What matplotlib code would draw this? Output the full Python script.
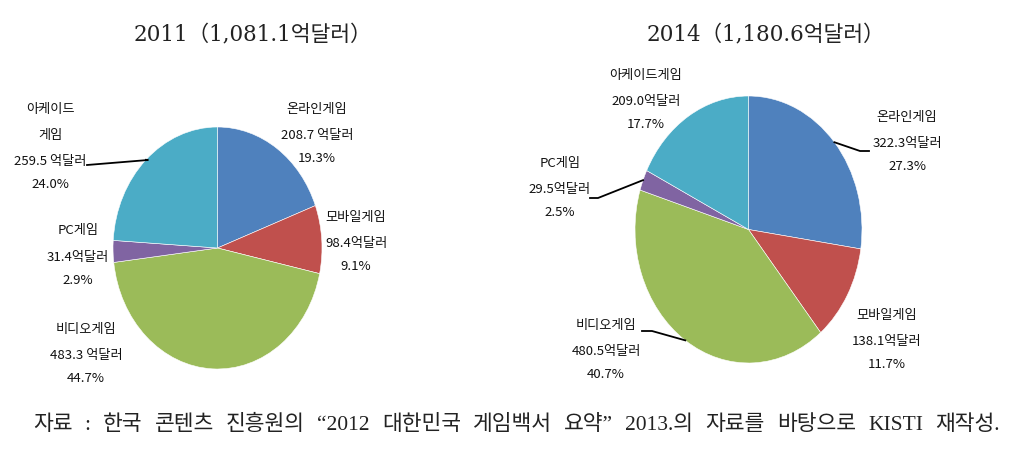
import matplotlib
matplotlib.use("Agg")
import matplotlib.pyplot as plt
import numpy as np

# ---------------- data ----------------
categories = ["온라인게임", "모바일게임", "비디오게임", "PC게임", "아케이드게임"]
colors = ["#4F81BD", "#C0504D", "#9BBB59", "#8064A2", "#4BACC6"]

values_2011 = [208.7, 98.4, 483.3, 31.4, 259.5]
pct_2011 = [19.3, 9.1, 44.7, 2.9, 24.0]
amount_2011 = ["208.7 억달러", "98.4억달러", "483.3 억달러", "31.4억달러", "259.5 억달러"]
names_2011 = ["온라인게임", "모바일게임", "비디오게임", "PC게임", "아케이드\n게임"]

values_2014 = [322.3, 138.1, 480.5, 29.5, 209.0]
pct_2014 = [27.3, 11.7, 40.7, 2.5, 17.7]
amount_2014 = ["322.3억달러", "138.1억달러", "480.5억달러", "29.5억달러", "209.0억달러"]
names_2014 = categories

title_2011 = "2011（1,081.1억달러）"
title_2014 = "2014（1,180.6억달러）"
source_words = ["자료", ":", "한국", "콘텐츠", "진흥원의", "“2012", "대한민국", "게임백서",
                "요약”", "2013.의", "자료를", "바탕으로", "KISTI", "재작성."]

# ---------------- layout (pixels) ----------------
W, H = 1018, 454
# pie bounding boxes: left, top, right, bottom
box_2011 = (113, 127, 322, 369)
box_2014 = (635, 96, 862, 363)
# label centre x, top-line y
lab_2011 = [(317, 109), (356, 218), (86, 330), (78, 231), (50, 109)]
lab_2014 = [(907, 117), (887, 315), (606, 325), (560, 164), (646, 76)]
# leader lines: wedge index -> label-side end points (pixels)
lead_2011 = {4: [(87, 165), (148, 160)]}
lead_2014 = {0: [(869, 151), (860, 151)], 2: [(642, 331), (652, 331)], 3: [(590, 198), (598, 198)]}

KFONT = ["Noto Sans CJK KR", "DejaVu Sans"]
SFONT = ["DejaVu Serif", "Noto Sans CJK KR"]
NFONT = ["Liberation Serif", "Noto Sans CJK KR"]

fig = plt.figure(figsize=(W / 100, H / 100), dpi=100)


def draw_pie(box, values, names, amounts, pcts, labs, leads, title, title_x):
    l, t, r, b = box
    ax = fig.add_axes([l / W, 1 - b / H, (r - l) / W, (b - t) / H])
    wedges, _ = ax.pie(values, colors=colors, startangle=90, counterclock=False,
                       radius=1, wedgeprops=dict(edgecolor="white", linewidth=0.4))
    ax.set_aspect("auto")
    ax.set_xlim(-1, 1)
    ax.set_ylim(-1, 1)
    ax.axis("off")

    inv = ax.transData.inverted()

    def to_data(px, py):
        return inv.transform((px, H - py))

    # labels, one text per line
    for i, (x, y) in enumerate(labs):
        lines = names[i].split("\n") + [amounts[i], f"{pcts[i]:.1f}%"]
        yy = y
        for j, s in enumerate(lines):
            fig.text(x / W, 1 - yy / H, s, ha="center", va="center",
                     fontsize=9.5, family=KFONT, color="#111111")
            yy += 26 if j < len(lines) - 2 else 23

    # leader lines from wedge middle to the label
    for i, pts in leads.items():
        w = wedges[i]
        mid = np.deg2rad((w.theta1 + w.theta2) / 2)
        p = [to_data(*pt) for pt in pts]
        xs = [p[0][0], p[1][0], np.cos(mid)]
        ys = [p[0][1], p[1][1], np.sin(mid)]
        ax.plot(xs, ys, color="black", lw=1.3, clip_on=False)

    fig.text(title_x / W, 1 - 35 / H, title, ha="center", va="center",
             fontsize=15.5, family=SFONT, color="#222222")


draw_pie(box_2011, values_2011, names_2011, amount_2011, pct_2011, lab_2011, lead_2011,
         title_2011, 253)
draw_pie(box_2014, values_2014, names_2014, amount_2014, pct_2014, lab_2014, lead_2014,
         title_2014, 766)

# source line, words spread from x=33 to x=1000
src_left, src_right, src_y = 33, 1000, 425
renderer = fig.canvas.get_renderer()
texts = [fig.text(0, 1 - src_y / H, w, ha="left", va="center", fontsize=15.5,
                  family=NFONT, color="#222222") for w in source_words]
widths = [t.get_window_extent(renderer).width for t in texts]
gap = (src_right - src_left - sum(widths)) / (len(texts) - 1)
x = src_left
for t, wd in zip(texts, widths):
    t.set_x(x / W)
    x += wd + gap

fig.savefig("out.png", dpi=100)
